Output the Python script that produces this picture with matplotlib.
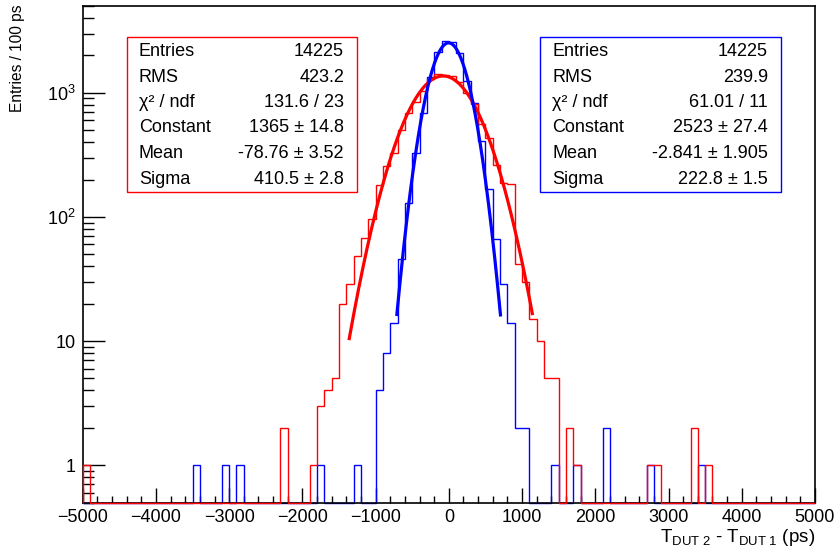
import numpy as np
import matplotlib
matplotlib.use("Agg")
import matplotlib.pyplot as plt
from matplotlib.ticker import FixedLocator, MultipleLocator, NullFormatter, FuncFormatter

plt.rcParams['font.family'] = ['Liberation Sans', 'DejaVu Sans']
plt.rcParams['mathtext.fontset'] = 'custom'
plt.rcParams['mathtext.rm'] = 'Liberation Sans'
plt.rcParams['mathtext.it'] = 'Liberation Sans:italic'

# ---- data (bin lower edges in ps, counts per 100 ps) ----
red_bins = [-5000, -2300, -1900, -1800, -1700, -1600, -1500, -1400, -1300, -1200,
            -1100, -1000, -900, -800, -700, -600, -500, -400, -300, -200,
            -100, 0, 100, 200, 300, 400, 500, 600, 700, 800,
            900, 1000, 1100, 1200, 1300, 1400, 1600, 1700, 2700, 2800,
            3300, 3500]
red_counts = [1, 2, 1, 3, 4, 5, 20, 29, 48, 68,
              97, 180, 255, 330, 500, 690, 850, 1025, 1280, 1420,
              1400, 1370, 1230, 1000, 810, 560, 430, 262, 187, 185,
              42, 30, 15, 10, 5, 5, 2, 1, 1, 1,
              2, 1]

blue_bins = [-3500, -3100, -2900, -1800, -1300, -1000, -900, -800, -700, -600,
             -500, -400, -300, -200, -100, 0, 100, 200, 300, 400,
             500, 600, 700, 800, 900, 1000, 1400, 1700, 2100, 2700,
             3400]
blue_counts = [1, 1, 1, 1, 1, 4, 8, 14, 46, 129,
               326, 686, 1350, 2114, 2600, 2570, 2100, 1234, 826, 405,
               167, 66, 29, 14, 2, 2, 1, 1, 2, 1,
               1]

# fit results shown in stat boxes
red_fit = dict(constant=1365, mean=-78.76, sigma=410.5, lo=-1360, hi=1140)
blue_fit = dict(constant=2523, mean=-2.841, sigma=222.8, lo=-710, hi=705)

stat_labels = ["Entries", "RMS", "χ² / ndf", "Constant", "Mean", "Sigma"]
red_stats = ["14225", "423.2", "131.6 / 23", "1365 ± 14.8", "-78.76 ± 3.52", "410.5 ± 2.8"]
blue_stats = ["14225", "239.9", "61.01 / 11", "2523 ± 27.4", "-2.841 ± 1.905", "222.8 ± 1.5"]

xmin, xmax, bw = -5000, 5000, 100
ymin, ymax = 0.5, 5000

# ---- figure ----
W, H = 835, 553
fig = plt.figure(figsize=(W / 100, H / 100), dpi=100)
ax = fig.add_axes([82.7 / W, 1 - 502.5 / H, (815 - 82.7) / W, (502.5 - 6) / H])

edges = np.arange(xmin, xmax + bw, bw)


def fill(bins, counts):
    v = np.zeros(len(edges) - 1)
    for b, c in zip(bins, counts):
        v[int(round((b - xmin) / bw))] = c
    return np.where(v > 0, v, ymin)


ax.stairs(fill(blue_bins, blue_counts), edges, baseline=ymin, color='#0000ff',
          lw=1.0, clip_on=False, zorder=2)
ax.stairs(fill(red_bins, red_counts), edges, baseline=ymin, color='#ff0000',
          lw=1.0, clip_on=False, zorder=3)


def gauss(f):
    x = np.linspace(f['lo'], f['hi'], 400)
    return x, f['constant'] * np.exp(-0.5 * ((x - f['mean']) / f['sigma']) ** 2)


x, y = gauss(red_fit)
ax.plot(x, y, color='#ff0000', lw=2.3, zorder=4)
x, y = gauss(blue_fit)
ax.plot(x, y, color='#0000ff', lw=2.3, zorder=5)

ax.set_xlim(xmin, xmax)
ax.set_yscale('log')
ax.set_ylim(ymin, ymax)

ax.xaxis.set_major_locator(MultipleLocator(1000))
ax.xaxis.set_minor_locator(MultipleLocator(200))
ax.xaxis.set_major_formatter(FuncFormatter(
    lambda v, p: ('\u2212' if v < 0 else '') + str(abs(int(round(v))))))
ax.yaxis.set_major_locator(FixedLocator([1, 10, 100, 1000]))
ax.yaxis.set_minor_locator(FixedLocator(
    [m * 10 ** e for e in range(-1, 4) for m in range(2, 10) if ymin <= m * 10 ** e <= ymax]))
ax.yaxis.set_minor_formatter(NullFormatter())
ylabels = {1: '1', 10: '10', 100: '$10^{2}$', 1000: '$10^{3}$'}
ax.yaxis.set_major_formatter(FuncFormatter(lambda v, p: ylabels.get(int(round(v)), '')))

ax.tick_params(axis='both', which='both', direction='in', top=False, right=False,
               labelsize=13, width=1.0, color='black')
ax.tick_params(axis='x', which='major', length=10.5, pad=5)
ax.tick_params(axis='x', which='minor', length=5)
ax.tick_params(axis='y', which='major', length=15.5, pad=5)
ax.tick_params(axis='y', which='minor', length=8)
for s in ax.spines.values():
    s.set_linewidth(1.2)

fig.text(18 / W, 1 - 5 / H, 'Entries / 100 ps', rotation=90, ha='center', va='top',
         fontsize=11.2)
fig.text(815 / W, 1 - 538 / H, r'T$_{\rm DUT\ 2}$ - T$_{\rm DUT\ 1}$ (ps)',
         ha='right', va='center', fontsize=13.5)


# ---- stat boxes ----
def stat_box(x0, x1, y0, y1, color, values):
    r = plt.Rectangle((x0 / W, 1 - y1 / H), (x1 - x0) / W, (y1 - y0) / H,
                      transform=fig.transFigure, fill=True, facecolor='white',
                      edgecolor=color, lw=1.0, zorder=10)
    fig.patches.append(r)
    rows = [51, 77, 102.5, 128, 154, 179]
    for yy, lab, val in zip(rows, stat_labels, values):
        fig.text((x0 + 12) / W, 1 - yy / H, lab, ha='left', va='center',
                 fontsize=13, zorder=11)
        fig.text((x1 - 13) / W, 1 - yy / H, val, ha='right', va='center',
                 fontsize=13, zorder=11)


stat_box(127, 357, 37, 192, '#ff0000', red_stats)
stat_box(540, 781, 37, 192, '#0000ff', blue_stats)

fig.savefig('out.png', dpi=100)
